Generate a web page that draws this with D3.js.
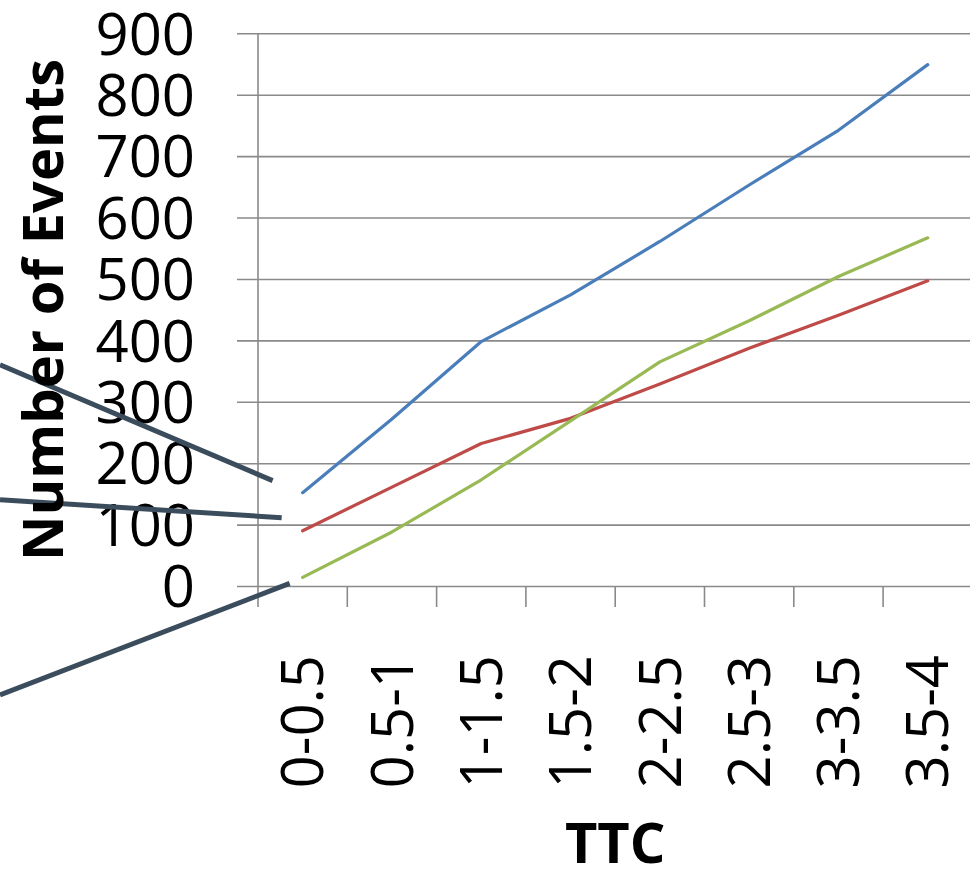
<!DOCTYPE html>
<html>
<head>
<meta charset="utf-8">
<script src="https://cdn.jsdelivr.net/npm/d3@7/dist/d3.min.js"></script>
<style>
  html, body { margin: 0; padding: 0; background: #ffffff; }
  svg { display: block; }
</style>
</head>
<body>
<svg id="chart" width="970" height="869"></svg>
<script>
// ---- data ----
const categories = ["0-0.5", "0.5-1", "1-1.5", "1.5-2", "2-2.5", "2.5-3", "3-3.5", "3.5-4"];
const seriesBlue  = [152, 272, 398, 474, 561, 653, 742, 849];
const seriesRed   = [90, 161, 232, 273, 329, 387, 441, 497];
const seriesGreen = [14, 88, 173, 269, 365, 432, 504, 567];
const yTicks = [0, 100, 200, 300, 400, 500, 600, 700, 800, 900];
const yTitle = "Number of Events";
const xTitle = "TTC";

const series = [
  { name: "blue",  values: seriesBlue,  color: "#4a7ebb" },
  { name: "red",   values: seriesRed,   color: "#be4b48" },
  { name: "green", values: seriesGreen, color: "#98b954" }
];

// ---- layout ----
const svg = d3.select("#chart");
const W = 970;
const plotLeft = 258, plotRight = 972.4, plotTop = 33.3, plotBottom = 586;
const font = "'Open Sans', 'Noto Sans', sans-serif";

const x = d3.scaleBand().domain(categories).range([plotLeft, plotRight]).paddingInner(0).paddingOuter(0);
const y = d3.scaleLinear().domain([0, 900]).range([plotBottom, plotTop]);
const cx = c => x(c) + x.bandwidth() / 2;

// y axis with gridlines
const gy = svg.append("g").attr("transform", `translate(237,0)`)
  .call(d3.axisLeft(y).tickValues(yTicks).tickSizeInner(-(W - 237)).tickSizeOuter(0).tickPadding(42).tickFormat(d3.format("d")));
gy.select(".domain").remove();
gy.selectAll(".tick line").attr("stroke", "#8a8a8a").attr("stroke-width", 1.6);
gy.selectAll(".tick text")
  .attr("font-family", font).attr("font-size", 58).attr("fill", "#000")
  .attr("dy", "0.357em");

// vertical axis line
svg.append("line")
  .attr("x1", plotLeft).attr("x2", plotLeft)
  .attr("y1", y(900)).attr("y2", plotBottom + 21)
  .attr("stroke", "#8a8a8a").attr("stroke-width", 1.6);

// x tick marks at category boundaries
const boundaries = categories.map(c => x(c)).concat([x(categories[categories.length - 1]) + x.bandwidth()]);
svg.append("g").selectAll("line").data(boundaries.slice(1)).join("line")
  .attr("x1", d => d).attr("x2", d => d)
  .attr("y1", plotBottom).attr("y2", plotBottom + 21)
  .attr("stroke", "#8a8a8a").attr("stroke-width", 1.6);

// x tick labels (rotated)
svg.append("g").selectAll("text").data(categories).join("text")
  .attr("transform", d => `translate(${cx(d)},655) rotate(-90)`)
  .attr("text-anchor", "end")
  .attr("dy", "0.357em")
  .attr("font-family", font).attr("font-size", 58).attr("fill", "#000")
  .text(d => d);

// lines
const line = d3.line().x((d, i) => cx(categories[i])).y(d => y(d));
svg.append("g").selectAll("path").data(series).join("path")
  .attr("d", d => line(d.values))
  .attr("fill", "none")
  .attr("stroke", d => d.color)
  .attr("stroke-width", 3.2)
  .attr("stroke-linejoin", "round")
  .attr("stroke-linecap", "round");

// callout lines pointing at the first point of each series
const callouts = [
  { s: 0, dx: -30, dy: -12, slope: 0.425 },
  { s: 1, dx: -21, dy: -13, slope: 0.064 },
  { s: 2, dx: -13, dy: 6, slope: -0.385 }
];
svg.append("g").selectAll("line").data(callouts).join("line")
  .attr("x1", 0)
  .attr("y1", d => { const ex = cx(categories[0]) + d.dx, ey = y(series[d.s].values[0]) + d.dy; return ey - d.slope * ex; })
  .attr("x2", d => cx(categories[0]) + d.dx)
  .attr("y2", d => y(series[d.s].values[0]) + d.dy)
  .attr("stroke", "#3b4d5c").attr("stroke-width", 5);

// axis titles
svg.append("text")
  .attr("transform", "translate(63,310) rotate(-90)")
  .attr("text-anchor", "middle")
  .attr("font-family", font).attr("font-weight", "bold").attr("font-size", 56).attr("fill", "#000")
  .text(yTitle);

svg.append("text")
  .attr("x", (plotLeft + plotRight) / 2).attr("y", 863)
  .attr("text-anchor", "middle")
  .attr("font-family", font).attr("font-weight", "bold").attr("font-size", 56).attr("fill", "#000")
  .text(xTitle);
</script>
</body>
</html>
